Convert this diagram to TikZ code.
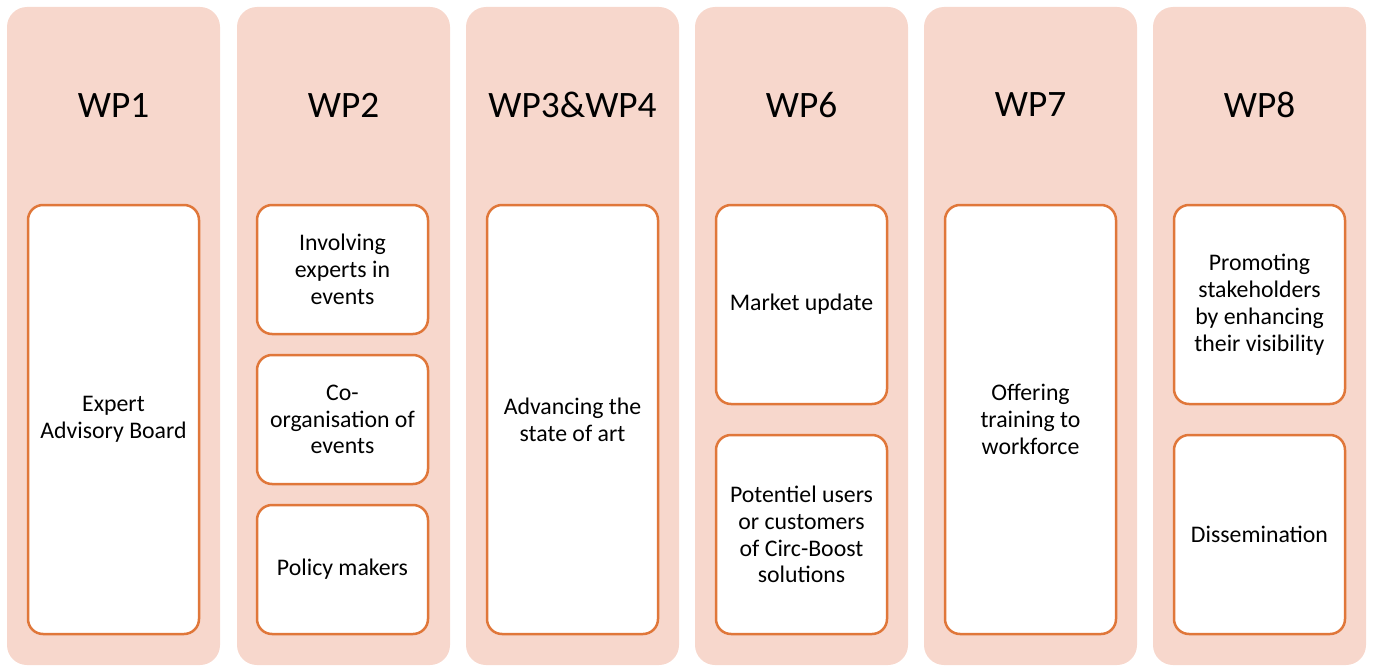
\documentclass[tikz,border=0pt]{standalone}
\usepackage{fontspec}
\setmainfont{Carlito}
\definecolor{bgpink}{HTML}{F7D7CC}
\definecolor{edgeor}{HTML}{E0773A}
\begin{document}
\begin{tikzpicture}[x=1pt,y=-1pt,
  colbg/.style={fill=bgpink,draw=none,rounded corners=20pt},
  itembox/.style={fill=white,draw=edgeor,line width=2.5pt,rounded corners=15pt},
  wptitle/.style={font=\fontsize{37.3}{40}\selectfont,anchor=center},
  itemtext/.style={font=\fontsize{23.8}{26.8}\selectfont,align=center,anchor=center}]
\useasboundingbox (0,0) rectangle (1373,666);
% columns
\foreach \i/\x in {1/7,2/237,3/466,4/695,5/924,6/1153}{
  \path[colbg] (\x,7) rectangle ++(213,658);
}
% titles
\node[wptitle] (t1) at (113.5,105) {WP1};
\node[wptitle] (t2) at (343.5,105) {WP2};
\node[wptitle] (t3) at (572.5,105) {WP3\&WP4};
\node[wptitle] (t4) at (801.5,105) {WP6};
\node[wptitle] (t5) at (1030.5,105) {WP7};
\node[wptitle] (t6) at (1259.5,105) {WP8};
% WP1
\draw[itembox] (28,205) rectangle (199,634);
\node[itemtext] (a1) at (113.5,419.5) {Expert\\Advisory Board};
% WP2
\draw[itembox] (257,205) rectangle (428,334);
\node[itemtext] (b1) at (342.5,269.5) {Involving\\experts in\\events};
\draw[itembox] (257,355) rectangle (428,484);
\node[itemtext] (b2) at (342.5,419.5) {Co-\\organisation of\\events};
\draw[itembox] (257,505) rectangle (428,634);
\node[itemtext] (b3) at (342.5,569.5) {Policy makers};
% WP3&4
\draw[itembox] (487,205) rectangle (658,634);
\node[itemtext] (c1) at (572.5,419.5) {Advancing the\\state of art};
% WP6
\draw[itembox] (716,205) rectangle (887,404);
\node[itemtext] (d1) at (801.5,304.5) {Market update};
\draw[itembox] (716,435) rectangle (887,634);
\node[itemtext] (d2) at (801.5,534.5) {Potentiel users\\or customers\\of Circ-Boost\\solutions};
% WP7
\draw[itembox] (945,205) rectangle (1116,634);
\node[itemtext] (e1) at (1030.5,419.5) {Offering\\training to\\workforce};
% WP8
\draw[itembox] (1174,205) rectangle (1345,404);
\node[itemtext] (f1) at (1259.5,304.5) {Promoting\\stakeholders\\by enhancing\\their visibility};
\draw[itembox] (1174,435) rectangle (1345,634);
\node[itemtext] (f2) at (1259.5,534.5) {Dissemination};
\end{tikzpicture}
\end{document}
